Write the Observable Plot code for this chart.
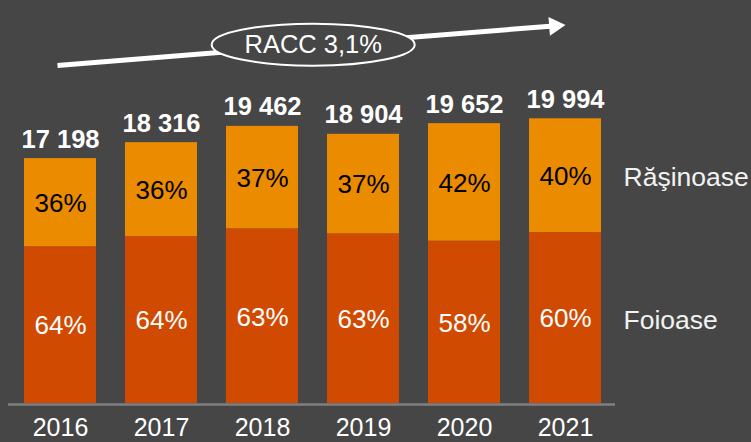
<!DOCTYPE html>
<html>
<head>
<meta charset="utf-8">
<script src="https://cdn.jsdelivr.net/npm/d3@7"></script>
<script src="https://cdn.jsdelivr.net/npm/@observablehq/plot@0.6"></script>
<style>
  html, body { margin: 0; padding: 0; background: #464646; }
  #chart { width: 751px; height: 442px; overflow: hidden; }
</style>
</head>
<body>
<div id="chart"></div>
<script>
// ---- data ----
const years = ["2016", "2017", "2018", "2019", "2020", "2021"];
const totals = [17198, 18316, 19462, 18904, 19652, 19994];
const seriesNames = ["Foioase", "Răşinoase"];
const foioasePct = [64, 64, 63, 63, 58, 60];
const rasinoasePct = [36, 36, 37, 37, 42, 40];
const growthLabel = "RACC 3,1%";
const arrowStart = {year: "2016", value: 23760};
const arrowEnd = {year: "2021", value: 26580};
const labelAnchor = {year: "2018", value: 25200};

// ---- styles ----
const BG = "#464646";
const seriesColor = {"Foioase": "#D04A02", "Răşinoase": "#EB8C00"};
const pctTextColor = {"Foioase": "#ffffff", "Răşinoase": "#000000"};
const FONT = "'Liberation Sans', Arial, Helvetica, sans-serif";

const rows = [];
years.forEach((year, i) => {
  rows.push({year, series: seriesNames[0], pct: foioasePct[i], value: totals[i] * foioasePct[i] / 100});
  rows.push({year, series: seriesNames[1], pct: rasinoasePct[i], value: totals[i] * rasinoasePct[i] / 100});
});
const totalRows = years.map((year, i) => ({year, total: totals[i]}));
const fmt = d3.formatLocale({thousands: " ", grouping: [3], decimal: ","}).format(",d");

const marginLeft = 23, marginRight = 149, width = 751;
const paddingInner = 0.29;
const step = (width - marginLeft - marginRight) / (years.length - paddingInner);

// ellipse symbol for the growth label
const ellipseSymbol = {
  draw(ctx) {
    const rx = 101.5, ry = 21, k = 0.5523;
    ctx.moveTo(rx, 0);
    ctx.bezierCurveTo(rx, ry * k, rx * k, ry, 0, ry);
    ctx.bezierCurveTo(-rx * k, ry, -rx, ry * k, -rx, 0);
    ctx.bezierCurveTo(-rx, -ry * k, -rx * k, -ry, 0, -ry);
    ctx.bezierCurveTo(rx * k, -ry, rx, -ry * k, rx, 0);
    ctx.closePath();
  }
};

const ang = Math.atan2(-40, 509);
const headBack = 10.9;

const chart = Plot.plot({
  width,
  height: 442,
  marginLeft,
  marginRight,
  marginTop: 0,
  marginBottom: 39,
  style: {background: BG, color: "#ffffff", fontFamily: FONT, fontSize: "25px"},
  x: {domain: years, paddingInner, paddingOuter: 0, tickSize: 0, tickPadding: 15, label: null},
  y: {domain: [0, 28300], axis: null},
  color: {type: "identity"},
  marks: [
    Plot.ruleY([0], {stroke: "#808080", strokeWidth: 2.5, insetLeft: -15, insetRight: -13, dy: 1}),
    Plot.barY(rows, Plot.stackY({x: "year", y: "value", fill: d => seriesColor[d.series]})),
    Plot.text(rows, Plot.stackY({
      x: "year", y: "value", text: d => d.pct + "%",
      fill: d => pctTextColor[d.series], fontSize: 26, dy: 1
    })),
    Plot.text(totalRows, {
      x: "year", y: "total", text: d => fmt(d.total),
      fill: "#ffffff", fontWeight: "bold", fontSize: 25.5, lineAnchor: "bottom", dy: -11
    }),
    Plot.text(rows, Plot.stackY({
      filter: d => d.year === years[years.length - 1],
      x: "year", y: "value", text: "series",
      fill: "#f2f2f2", textAnchor: "start", dx: 58, fontSize: 26.5, dy: 2
    })),
    Plot.arrow([{s: arrowStart, e: arrowEnd}], {
      x1: d => d.s.year, y1: d => d.s.value, x2: d => d.e.year, y2: d => d.e.value,
      stroke: "#ffffff", strokeWidth: 5, headLength: 0, insetStart: -3, insetEnd: 9,
      strokeLinecap: "butt"
    }),
    Plot.dot([arrowEnd], {
      x: "year", y: "value", symbol: "triangle", r: 7, fill: "#ffffff", stroke: null,
      rotate: 90 + ang * 180 / Math.PI,
      dx: -headBack * Math.cos(ang), dy: -headBack * Math.sin(ang)
    }),
    Plot.dot([labelAnchor], {
      x: "year", y: "value", symbol: ellipseSymbol, r: 10,
      fill: BG, stroke: "#ffffff", strokeWidth: 2, dx: step / 2
    }),
    Plot.text([labelAnchor], {
      x: "year", y: "value", text: () => growthLabel,
      fill: "#ffffff", fontSize: 25.5, dx: step / 2, dy: 0
    })
  ]
});
document.getElementById("chart").appendChild(chart);
</script>
</body>
</html>
